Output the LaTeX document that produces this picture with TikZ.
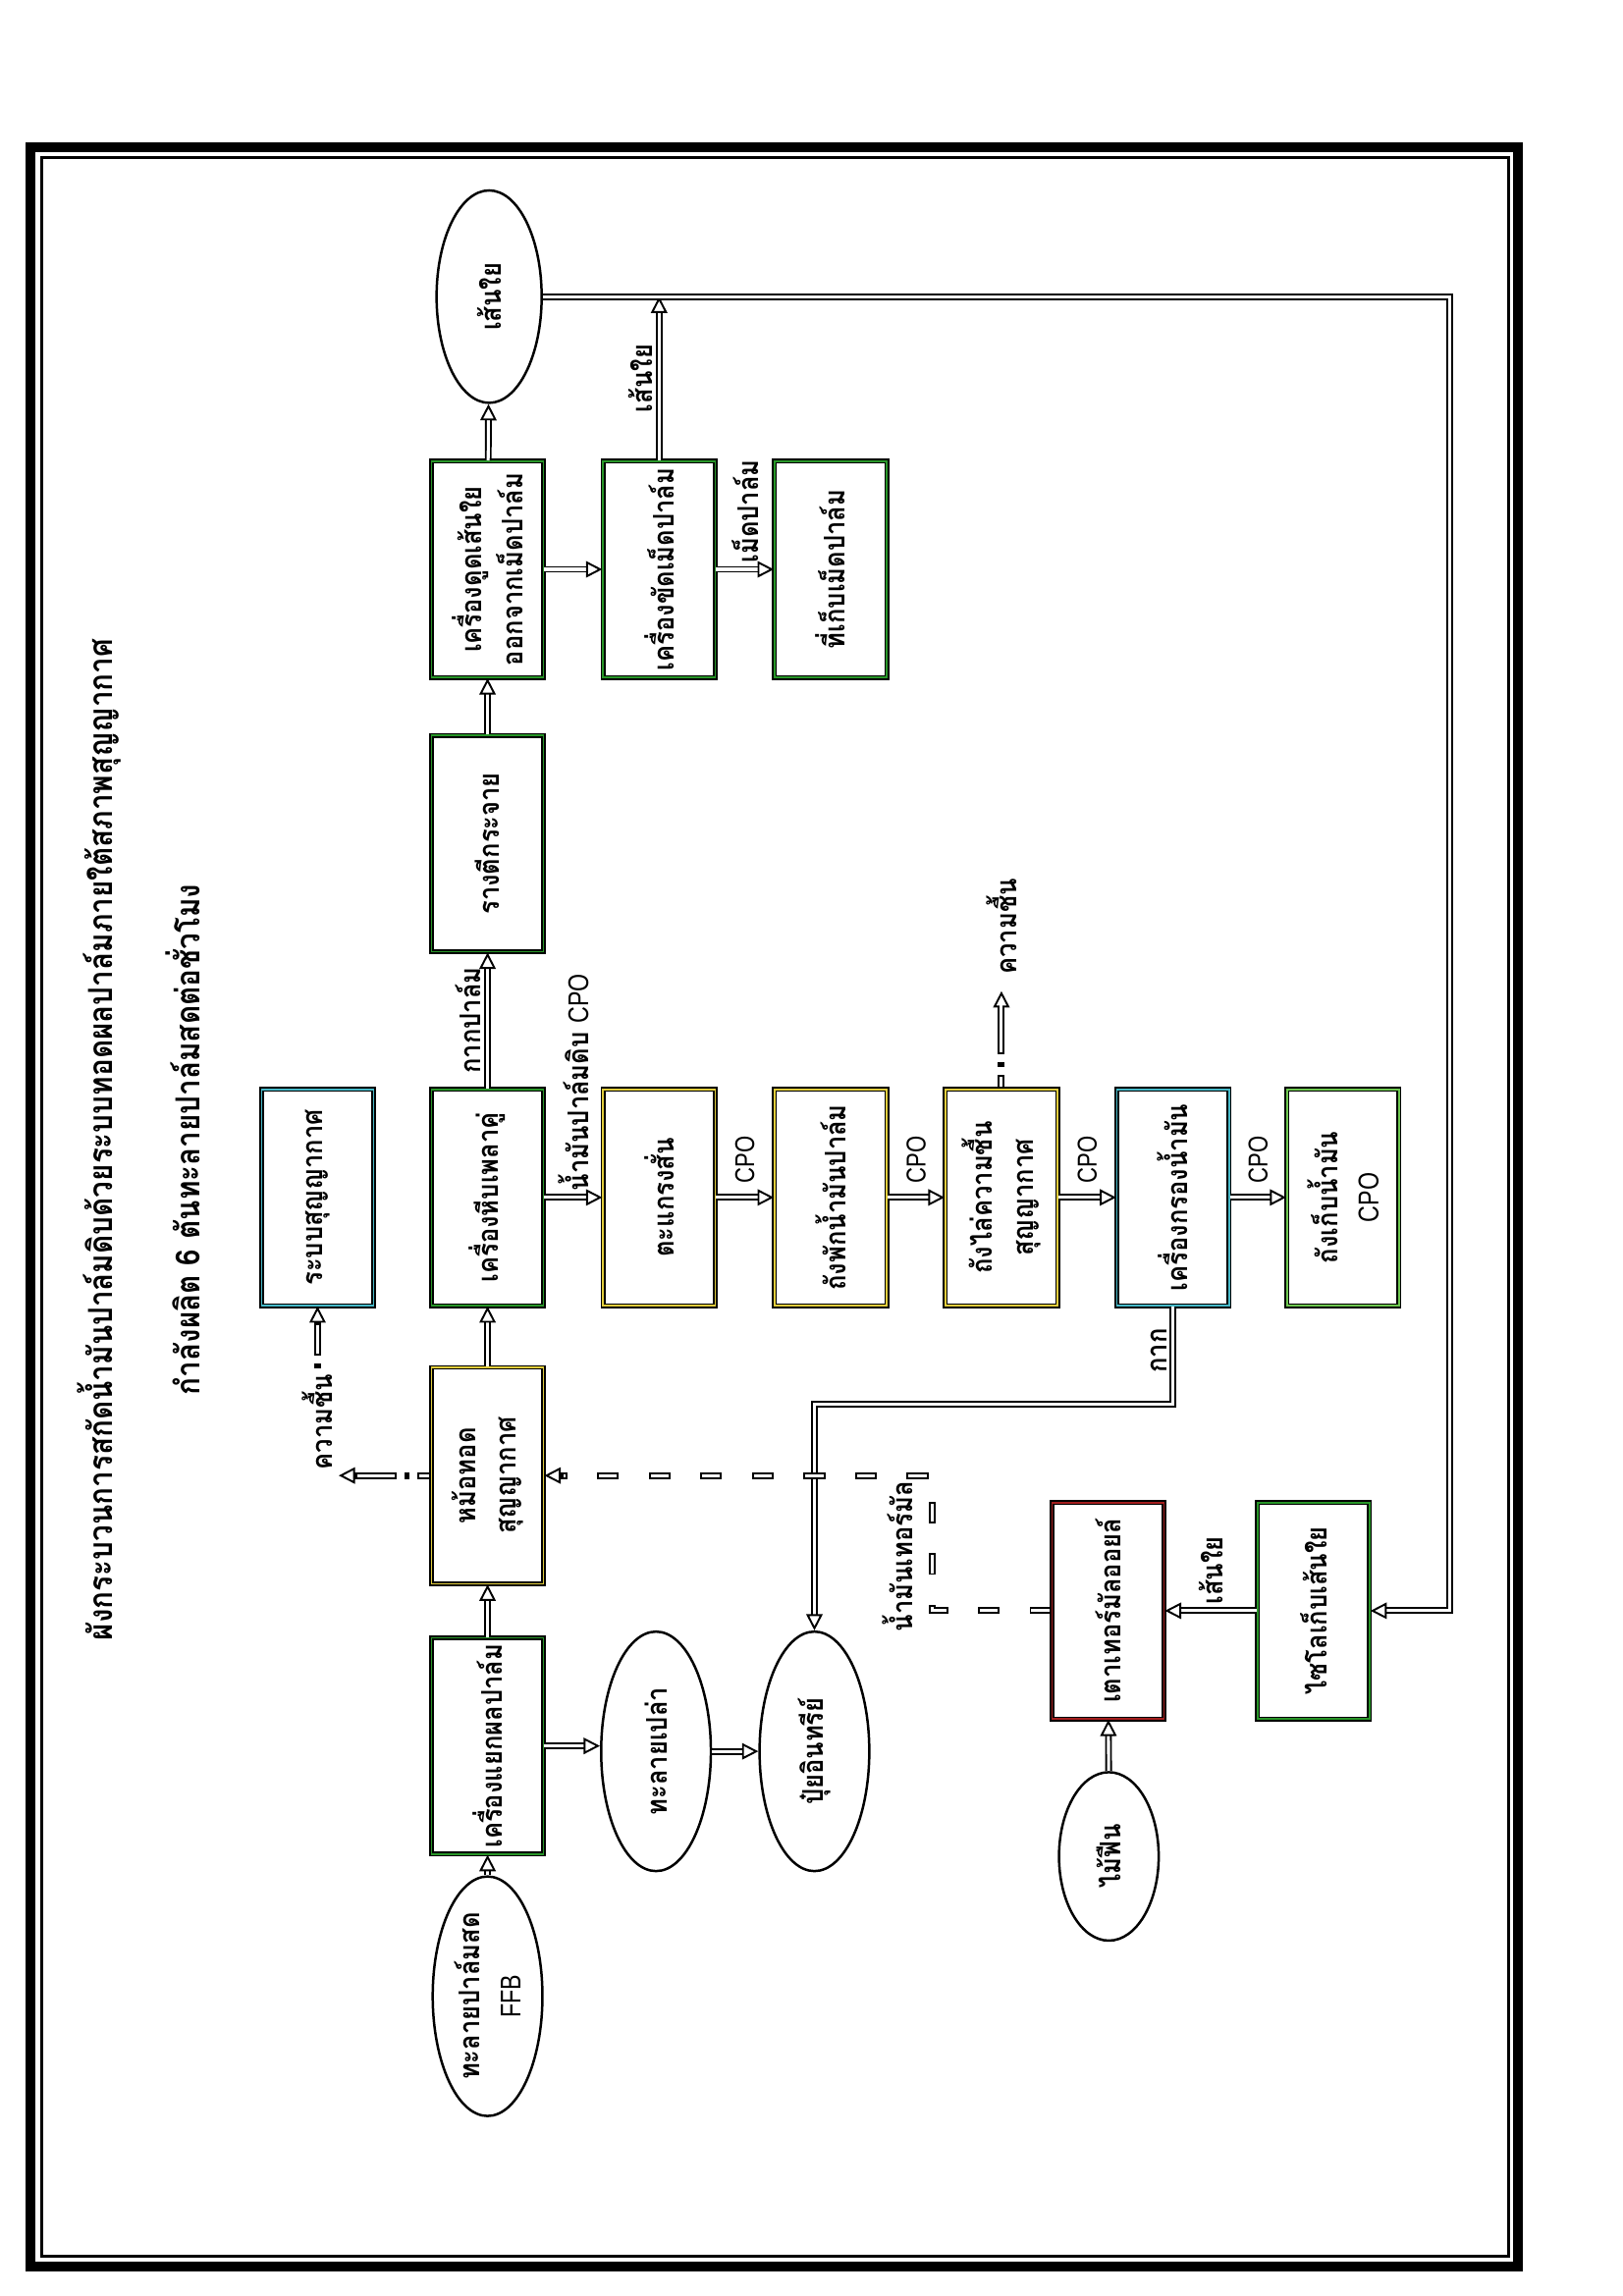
\documentclass[tikz,border=0pt]{standalone}
\usepackage{fontspec}
\setmainfont{Liberation Sans}[FakeStretch=0.8]
\newfontfamily\thai{Loma}[Script=Thai, FakeStretch=0.88]
\newfontfamily\latn{Liberation Sans}[FakeStretch=0.8]
\usepackage{tikz}
\usetikzlibrary{arrows.meta, shapes.geometric, positioning, calc}
\definecolor{edgegreen}{RGB}{40,150,40}
\definecolor{edgeyellow}{RGB}{225,205,60}
\definecolor{edgecyan}{RGB}{70,185,200}
\definecolor{edgered}{RGB}{165,30,30}
\definecolor{edgelime}{RGB}{110,200,80}
\tikzset{
  box/.style={rectangle, draw=black, line width=0.6pt, double=#1,
    double distance=0.6pt, fill=white, minimum width=2.8cm,
    minimum height=1.45cm, align=center, inner sep=1pt,
    font=\thai\bfseries\fontsize{10.5}{15}\selectfont},
  box/.default=edgegreen,
  blob/.style={ellipse, draw=black, line width=0.9pt, fill=white,
    minimum width=3.1cm, minimum height=1.42cm, align=center, inner sep=0pt,
    font=\thai\bfseries\fontsize{10.5}{15}\selectfont},
  tip/.style={-{Triangle[open, length=6pt, width=6pt, line width=0.7pt]}},
  flow/.style={draw, line width=0.7pt, double, double distance=1.1pt, tip},
  % hollow dashes: thick black dash, white core drawn on top
  hollow/.style 2 args={draw, line width=2.5pt, dash pattern=#1, tip,
    postaction={draw=white, line width=1.1pt, arrows=-, shorten >=6.9pt,
      dash pattern=#2}},
  vapour/.style={hollow={on 5pt off 3pt on 1.6pt off 3pt on 60pt off 1pt}
    {on 0pt off 0.7pt on 3.6pt off 9pt on 58.6pt off 10pt}},
  vapourtail/.style={hollow={on 1.6pt off 3pt on 60pt off 1pt}
    {on 0pt off 5.3pt on 58.6pt off 10pt}},
  thermal/.style={hollow={on 8pt off 11pt}{on 0pt off 0.7pt on 6.6pt off 11.7pt}},
  lbl/.style={font=\thai\bfseries\fontsize{10.5}{13}\selectfont, inner sep=2pt},
  cpo/.style={font=\latn\fontsize{10}{12}\selectfont, inner sep=2pt},
  title/.style={font=\thai\bfseries\fontsize{12.2}{15}\selectfont}
}

\begin{document}
\begin{tikzpicture}[rotate=90, transform shape]
  \useasboundingbox (0,0) rectangle (29.72,21.0);

  % frame
  \draw[line width=3.6pt] (0.38,1.35) rectangle (27.81,20.60);
  \draw[line width=1.1pt] (0.52,1.48) rectangle (27.68,20.46);

  % title
  \node[title] (ttl1) at (14.97,19.71) {ผังกระบวนการสกัดน้ำมันปาล์มดิบด้วยระบบทอดผลปาล์มภายใต้สภาพสุญญากาศ};
  \node[title] (ttl2) at (14.97,18.63) {กำลังผลิต 6 ตันทะลายปาล์มสดต่อชั่วโมง};

  % main line
  \node[blob] (ffb) at (3.88,14.69) {ทะลายปาล์มสด\\{\latn\mdseries FFB}};
  \node[box] (thresh) at (7.12,14.69) {เครื่องแยกผลปาล์ม};
  \node[box=edgeyellow] (fryer) at (10.62,14.69) {หม้อทอด\\สุญญากาศ};
  \node[box] (press) at (14.22,14.69) {เครื่องหีบเพลาคู่};
  \node[box] (shred) at (18.80,14.69) {รางตีกระจาย};
  \node[box] (sep) at (22.35,14.69) {เครื่องดูดเส้นใย\\ออกจากเม็ดปาล์ม};
  \node[blob, minimum width=2.75cm, minimum height=1.36cm] (fibre) at (25.88,14.67) {เส้นใย};

  % vacuum system
  \node[box=edgecyan] (vac) at (14.22,16.89) {ระบบสุญญากาศ};

  % nut line
  \node[box] (nutp) at (22.35,12.47) {เครื่องขัดเม็ดปาล์ม};
  \node[box] (nuts) at (22.35,10.25) {ที่เก็บเม็ดปาล์ม};

  % oil line
  \node[box=edgeyellow] (screen) at (14.22,12.47) {ตะแกรงสั่น};
  \node[box=edgeyellow] (settle) at (14.22,10.25) {ถังพักน้ำมันปาล์ม};
  \node[box=edgeyellow] (dryer) at (14.22,8.04) {ถังไล่ความชื้น\\สุญญากาศ};
  \node[box=edgecyan] (filter) at (14.22,5.82) {เครื่องกรองน้ำมัน};
  \node[box=edgelime] (store) at (14.22,3.62) {ถังเก็บน้ำมัน\\{\latn\mdseries CPO}};

  % bunch and fertiliser
  \node[blob] (efb) at (7.05,12.51) {ทะลายเปล่า};
  \node[blob] (fert) at (7.05,10.46) {ปุ๋ยอินทรีย์};

  % heating
  \node[box=edgered] (kiln) at (8.87,6.66) {เตาเทอร์มัลออยล์};
  \node[blob, minimum width=2.18cm, minimum height=1.29cm] (wood) at (5.69,6.65) {ไม้ฟืน};
  \node[box] (silo) at (8.87,4.00) {ไซโลเก็บเส้นใย};

  % moisture labels
  \node[lbl, anchor=west] (wet1) at (10.62,16.89) {ความชื้น};
  \node[lbl, right=1.4cm of dryer] (wet2) {ความชื้น};
  \coordinate (ret) at (0,2.24);

  % main flow
  \draw[flow] (ffb) -- (thresh);
  \draw[flow] (thresh) -- (fryer);
  \draw[flow] (fryer) -- (press);
  \draw[flow] (press) -- node[lbl, above] {กากปาล์ม} (shred);
  \draw[flow] (shred) -- (sep);
  \draw[flow] (sep) -- (fibre);
  \draw[flow] (sep) -- (nutp);
  \draw[flow] (nutp) -- node[lbl, right] {เม็ดปาล์ม} (nuts);
  \draw[flow] (nutp.east) -- node[lbl, above] {เส้นใย} (nutp.east -| fibre.center);

  % oil flow
  \draw[flow] (press) -- node[lbl, right] {น้ำมันปาล์มดิบ {\latn\mdseries CPO}} (screen);
  \draw[flow] (screen) -- node[cpo, right=3pt] {CPO} (settle);
  \draw[flow] (settle) -- node[cpo, right=3pt] {CPO} (dryer);
  \draw[flow] (dryer) -- node[cpo, right=3pt] {CPO} (filter);
  \draw[flow] (filter) -- node[cpo, right=3pt] {CPO} (store);

  % moisture
  \draw[vapour] (fryer.north) -- (fryer.north |- wet1.south);
  \draw[vapourtail] (wet1) -- (vac);
  \draw[vapour, shorten >=4pt] (dryer) -- (wet2);

  % bunches and cake
  \draw[flow] (thresh.south) -- (thresh.south |- efb.north);
  \draw[flow] (efb) -- (fert);
  \draw[flow] (filter.west) -- node[lbl, above, pos=0.45] {กาก} ++(-1.27,0) |- (fert.east);

  % heating
  \draw[thermal] (kiln.north) -- ++(0,1.54) -| node[lbl, above=4pt, pos=0.2] {น้ำมันเทอร์มัล} (fryer.south);
  \draw[flow] (wood) -- (kiln);
  \draw[flow] (silo) -- node[lbl, right] {เส้นใย} (kiln);
  \draw[flow] (fibre.south) -- (fibre.south |- ret) -| (silo.south);
\end{tikzpicture}
\end{document}
